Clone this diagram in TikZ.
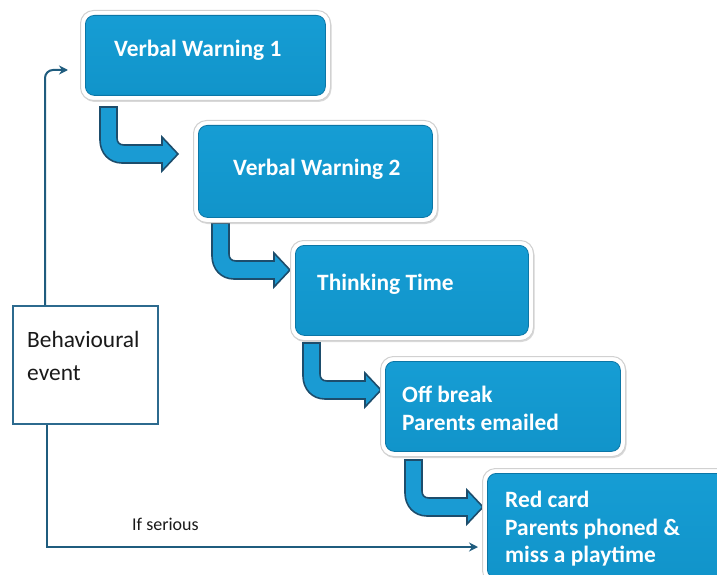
\documentclass[tikz,border=0pt]{standalone}
\usepackage{fontspec}
\setmainfont{Carlito}
\usetikzlibrary{arrows.meta,shadows}
\definecolor{boxtop}{HTML}{169DD4}
\definecolor{boxbot}{HTML}{1194CA}
\definecolor{boxedge}{HTML}{0B76A6}
\definecolor{arrfill}{HTML}{1A9BD3}
\definecolor{arredge}{HTML}{1D4D6C}
\definecolor{evborder}{HTML}{2C6A8E}
\definecolor{connc}{HTML}{1F5C7E}
\tikzset{
  whitebox/.style={fill=white, draw=black!18, line width=1pt, rounded corners=13pt, anchor=north west, inner sep=0pt,
    drop shadow={shadow xshift=1pt, shadow yshift=-1.5pt, opacity=0.3, fill=gray}},
  bluebox/.style={top color=boxtop, bottom color=boxbot, draw=boxedge, line width=0.8pt,
    rounded corners=9pt, anchor=north west, inner sep=0pt},
  boxtext/.style={text=white, font=\bfseries\fontsize{23.4}{28}\selectfont, anchor=base west, inner sep=0pt},
  evtext/.style={text=black!90, font=\fontsize{23.4}{28}\selectfont, anchor=base west, inner sep=0pt},
  smalltext/.style={text=black!90, font=\fontsize{18}{22}\selectfont, anchor=base west, inner sep=0pt},
  evbox/.style={draw=evborder, line width=2pt, fill=white, anchor=north west, inner sep=0pt},
  conn/.style={draw=connc, line width=2pt, -{Stealth[length=9pt,width=9pt]}},
  bentarr/.pic={
    \draw[fill=arrfill, draw=arredge, line width=1.6pt, line join=miter]
      (0,0) -- (17,0) -- (17,31) .. controls (17,35) and (19,38) .. (24,38)
      -- (62,38) -- (62,30) -- (78,47) -- (62,64) -- (62,56) -- (22,56)
      .. controls (9,56) and (0,46) .. (0,33) -- cycle;
  }
}
\begin{document}
\begin{tikzpicture}[x=1pt,y=-1pt]
\useasboundingbox (0,0) rectangle (717,575);
\clip (0,0) rectangle (717,575);

% bent block arrows
\pic at (100,107) {bentarr};
\pic at (212,223) {bentarr};
\pic at (303,343) {bentarr};
\pic at (405,460) {bentarr};

% box 1
\node[whitebox, minimum width=250pt, minimum height=90pt] (w1) at (80,10) {};
\node[bluebox, minimum width=240pt, minimum height=80pt] (b1) at (85,15) {};
\node[boxtext] (t1) at (114,57) {Verbal Warning 1};

% box 2
\node[whitebox, minimum width=244pt, minimum height=102pt] (w2) at (193,120) {};
\node[bluebox, minimum width=234pt, minimum height=92pt] (b2) at (198,125) {};
\node[boxtext] (t2) at (233,175) {Verbal Warning 2};

% box 3
\node[whitebox, minimum width=243pt, minimum height=100pt] (w3) at (290,240) {};
\node[bluebox, minimum width=233pt, minimum height=90pt] (b3) at (295,245) {};
\node[boxtext] (t3) at (317,290) {Thinking Time};

% box 4
\node[whitebox, minimum width=245pt, minimum height=100pt] (w4) at (380,356) {};
\node[bluebox, minimum width=235pt, minimum height=90pt] (b4) at (385,361) {};
\node[boxtext] (t4a) at (402,402) {Off break};
\node[boxtext] (t4b) at (402,430) {Parents emailed};

% box 5
\node[whitebox, minimum width=250pt, minimum height=115pt] (w5) at (482,468) {};
\node[bluebox, minimum width=240pt, minimum height=105pt] (b5) at (487,473) {};
\node[boxtext] (t5a) at (505,507) {Red card};
\node[boxtext] (t5b) at (505,535) {Parents phoned \&};
\node[boxtext] (t5c) at (505,562) {miss a playtime};

% behavioural event
\node[evbox, minimum width=145pt, minimum height=118pt] (be) at (12,305) {};
\node[evtext] (bt1) at (27,347) {Behavioural};
\node[evtext] (bt2) at (27,380) {event};

% connectors
\coordinate (in1) at (68,70);
\coordinate (in5) at (478,547);
\draw[conn, rounded corners=8pt] ([xshift=33pt]be.north west) |- (in1);
\draw[conn] ([xshift=35pt]be.south west) |- (in5);
\node[smalltext] (ifs) at (132,530) {If serious};
\end{tikzpicture}
\end{document}
